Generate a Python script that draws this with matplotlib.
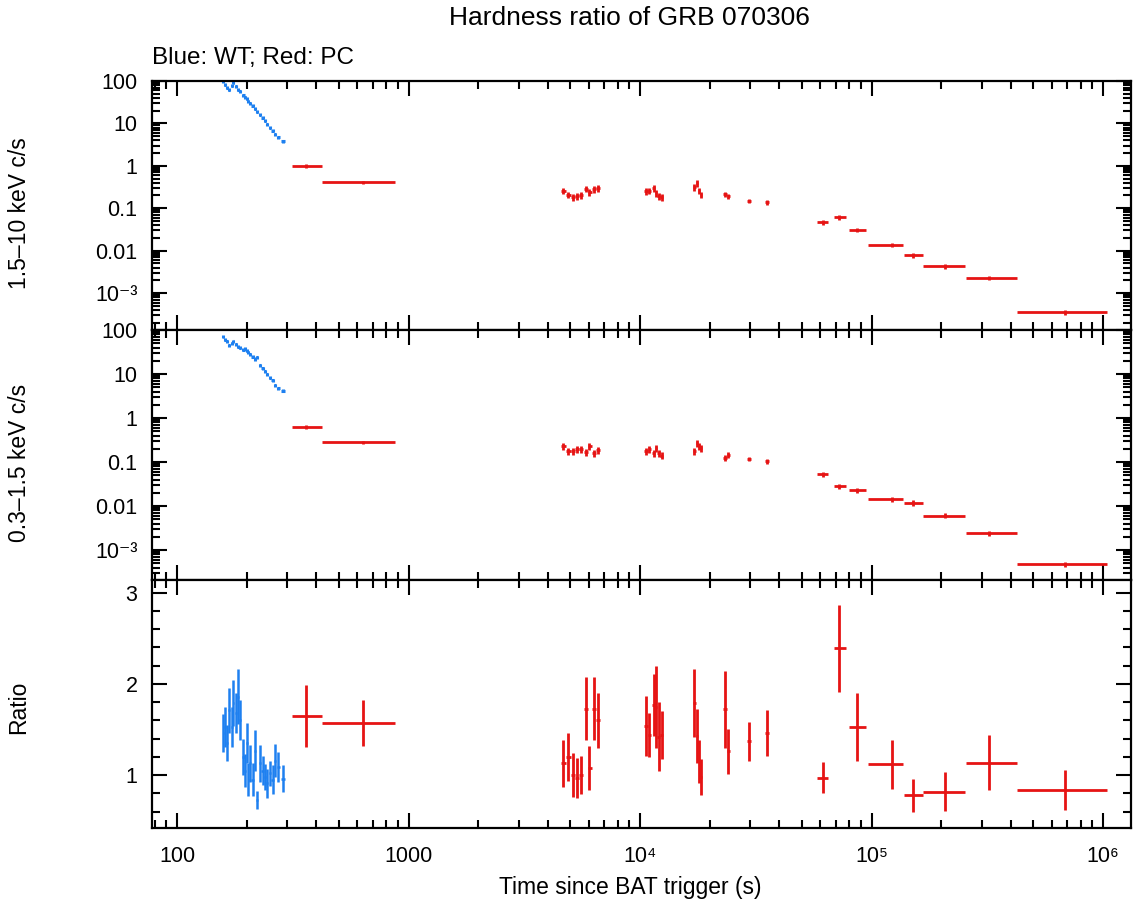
"""Hardness ratio light curve of GRB 070306 (Swift XRT, WT + PC modes)."""

import matplotlib
matplotlib.use("Agg")
import matplotlib.pyplot as plt
import matplotlib.ticker as mticker
import numpy as np

plt.rcParams["font.family"] = ["Liberation Sans", "DejaVu Sans"]

COLOR_WT = "#1e80f0"   # blue - windowed timing
COLOR_PC = "#e61414"   # red - photon counting

# ---- WT mode (blue) ----
wt_time = [158.6, 161.2, 164.9, 168.2, 172.4, 175.2, 179.3, 184.0, 187.2, 193.5,
           196.7, 200.0, 203.4, 206.8, 212.3, 217.2, 222.2, 228.2, 234.3, 239.8,
           245.3, 251.9, 258.8, 264.8, 274.0, 286.1]
wt_dt = [1.3, 1.3, 1.6, 1.6, 1.8, 1.4, 2.0, 2.0, 1.6, 3.0,
         1.6, 1.7, 1.7, 1.7, 2.5, 2.4, 2.5, 3.0, 3.0, 2.8,
         2.8, 3.2, 3.4, 3.0, 4.5, 6.0]
wt_hard = [100, 82, 70, 62, 78, 92, 75, 62, 57, 46,
           42, 38, 33, 30, 26, 22, 19, 16, 13.5, 11.5,
           9.5, 8.0, 6.8, 5.6, 4.7, 3.8]
wt_soft = [70, 60, 55, 45, 50, 55, 47, 42, 40, 36,
           38, 34, 31, 28, 25, 22, 24, 16, 13.5, 11.5,
           9.8, 8.2, 7.2, 5.6, 4.8, 4.2]
wt_ratio = [1.46, 1.53, 1.35, 1.71, 1.53, 1.79, 1.68, 1.86, 1.60, 1.20,
            1.05, 1.35, 0.95, 1.13, 0.95, 1.27, 0.73, 1.13, 1.05, 0.98,
            0.91, 1.02, 0.95, 1.16, 1.09, 0.96]
wt_ratio_err = [0.21, 0.22, 0.20, 0.25, 0.22, 0.25, 0.22, 0.30, 0.22, 0.20,
                0.18, 0.22, 0.18, 0.20, 0.18, 0.22, 0.10, 0.20, 0.16, 0.14,
                0.16, 0.14, 0.16, 0.18, 0.16, 0.15]
wt_rate_frac = 0.08

# ---- PC mode (red) ----
pc_time = [361, 636, 4667, 4897, 5149, 5360, 5560, 5848, 6040, 6330, 6562,
           10620, 10940, 11480, 11700, 12080, 12400, 17180, 17700, 18050, 18290,
           23300, 24000, 29580, 35250, 61400, 72600, 86300, 122100, 150600,
           207600, 322000, 685600]
pc_tlo = [314, 423, 4560, 4780, 5030, 5250, 5460, 5700, 5940, 6180, 6440,
          10450, 10780, 11300, 11590, 11890, 12240, 16950, 17440, 17870, 18170,
          22900, 23700, 29000, 34600, 57900, 69000, 80200, 96800, 138000,
          167500, 255300, 426800]
pc_thi = [423, 873, 4780, 5030, 5250, 5460, 5660, 5940, 6180, 6440, 6700,
          10780, 11100, 11590, 11890, 12240, 12600, 17440, 17870, 18170, 18500,
          23700, 24400, 30200, 35900, 65000, 77300, 94400, 137000, 166300,
          253500, 426800, 1040000]
pc_hard = [1.0, 0.41, 0.26, 0.21, 0.18, 0.19, 0.20, 0.29, 0.24, 0.28, 0.30,
           0.25, 0.26, 0.30, 0.23, 0.19, 0.18, 0.31, 0.39, 0.26, 0.21,
           0.215, 0.19, 0.15, 0.138, 0.047, 0.062, 0.031, 0.0138, 0.0078,
           0.0043, 0.0023, 0.00035]
pc_soft = [0.63, 0.28, 0.23, 0.18, 0.18, 0.20, 0.20, 0.17, 0.23, 0.16, 0.19,
           0.18, 0.20, 0.16, 0.21, 0.16, 0.14, 0.18, 0.27, 0.23, 0.21,
           0.125, 0.145, 0.119, 0.105, 0.053, 0.0285, 0.023, 0.0143, 0.012,
           0.0061, 0.0024, 0.00048]
pc_rate_frac = [0.12, 0.10, 0.18, 0.18, 0.18, 0.18, 0.18, 0.18, 0.18, 0.18, 0.18,
                0.18, 0.18, 0.18, 0.18, 0.18, 0.18, 0.18, 0.18, 0.18, 0.18,
                0.15, 0.15, 0.12, 0.12, 0.14, 0.14, 0.13, 0.12, 0.14,
                0.12, 0.12, 0.12]
pc_ratio = [1.65, 1.57, 1.13, 1.20, 1.00, 0.97, 1.00, 1.73, 1.08, 1.73, 1.60,
            1.54, 1.44, 1.77, 1.75, 1.42, 1.44, 1.79, 1.43, 1.15, 0.98,
            1.72, 1.26, 1.37, 1.46, 0.97, 2.39, 1.53, 1.12, 0.78,
            0.82, 1.135, 0.835]
pc_ratio_err = [0.34, 0.25, 0.26, 0.26, 0.24, 0.22, 0.21, 0.35, 0.24, 0.35, 0.30,
                0.33, 0.24, 0.34, 0.45, 0.38, 0.26, 0.37, 0.30, 0.24, 0.20,
                0.42, 0.25, 0.21, 0.25, 0.17, 0.48, 0.37, 0.27, 0.18,
                0.21, 0.30, 0.22]

x_ticks = [100, 1000, 1e4, 1e5, 1e6]
x_ticklabels = ["100", "1000", "10\u2074", "10\u2075", "10\u2076"]
rate_ticks = [1e-3, 0.01, 0.1, 1, 10, 100]
rate_ticklabels = ["10\u207b\u00b3", "0.01", "0.1", "1", "10", "100"]
ratio_ticks = [1, 2, 3]
ratio_ticklabels = ["1", "2", "3"]

W, H = 1135, 913
FS_TICK = 15.5
FS_LABEL = 16.5


def frac_box(top, bottom, left=152, right=1131):
    return [left / W, 1 - bottom / H, (right - left) / W, (bottom - top) / H]


def style_axis(ax):
    for sp in ax.spines.values():
        sp.set_linewidth(1.6)
    ax.tick_params(which="both", direction="in", top=True, right=True,
                   width=1.5, labelsize=FS_TICK)
    ax.tick_params(which="major", length=11)
    ax.tick_params(which="minor", length=5.5)
    ax.tick_params(axis="y", pad=10.5)
    ax.tick_params(axis="x", pad=13)
    ax.set_xscale("log")
    ax.set_xlim(78, 1.32e6)
    ax.xaxis.set_major_locator(mticker.FixedLocator(x_ticks))
    ax.xaxis.set_minor_locator(mticker.LogLocator(base=10, subs=range(2, 10), numticks=30))
    ax.xaxis.set_minor_formatter(mticker.NullFormatter())


def rate_panel(ax, wt_rate, pc_rate, ylim, label, label_y):
    wt_t = np.array(wt_time)
    pc_t = np.array(pc_time)
    wt_r = np.array(wt_rate)
    pc_r = np.array(pc_rate)
    ax.errorbar(wt_t, wt_r, xerr=np.array(wt_dt), yerr=wt_r * wt_rate_frac,
                fmt="none", ecolor=COLOR_WT, elinewidth=2.2, capsize=0)
    ax.errorbar(pc_t, pc_r,
                xerr=[pc_t - np.array(pc_tlo), np.array(pc_thi) - pc_t],
                yerr=pc_r * np.array(pc_rate_frac),
                fmt="none", ecolor=COLOR_PC, elinewidth=2.0, capsize=0)
    ax.set_yscale("log")
    ax.set_ylim(*ylim)
    ax.yaxis.set_major_locator(mticker.FixedLocator(rate_ticks))
    ax.yaxis.set_major_formatter(mticker.FixedFormatter(rate_ticklabels))
    ax.yaxis.set_minor_locator(mticker.LogLocator(base=10, subs=range(2, 10), numticks=30))
    ax.yaxis.set_minor_formatter(mticker.NullFormatter())
    ax.set_ylabel(label, fontsize=FS_LABEL)
    ax.yaxis.set_label_coords(-0.124, label_y)
    ax.tick_params(axis="x", labelbottom=False)


fig = plt.figure(figsize=(W / 100, H / 100), dpi=100)
fig.patch.set_facecolor("white")

ax_hard = fig.add_axes(frac_box(81, 330))
ax_soft = fig.add_axes(frac_box(330, 580))
ax_ratio = fig.add_axes(frac_box(580, 828))
for ax in (ax_hard, ax_soft, ax_ratio):
    style_axis(ax)

rate_panel(ax_hard, wt_hard, pc_hard, (1.35e-4, 100), "1.5\u201310 keV c/s", 0.47)
rate_panel(ax_soft, wt_soft, pc_soft, (2.1e-4, 100), "0.3\u20131.5 keV c/s", 0.47)

# Ratio panel
wt_t = np.array(wt_time)
pc_t = np.array(pc_time)
ax_ratio.errorbar(wt_t, wt_ratio, xerr=np.array(wt_dt), yerr=wt_ratio_err,
                  fmt="none", ecolor=COLOR_WT, elinewidth=1.8, capsize=0)
ax_ratio.errorbar(pc_t, pc_ratio,
                  xerr=[pc_t - np.array(pc_tlo), np.array(pc_thi) - pc_t],
                  yerr=pc_ratio_err, fmt="none", ecolor=COLOR_PC,
                  elinewidth=2.0, capsize=0)
ax_ratio.set_ylim(0.42, 3.14)
ax_ratio.yaxis.set_major_locator(mticker.FixedLocator(ratio_ticks))
ax_ratio.yaxis.set_major_formatter(mticker.FixedFormatter(ratio_ticklabels))
ax_ratio.yaxis.set_minor_locator(mticker.MultipleLocator(0.2))
ax_ratio.set_ylabel("Ratio", fontsize=FS_LABEL)
ax_ratio.yaxis.set_label_coords(-0.124, 0.485)
ax_ratio.xaxis.set_major_formatter(mticker.FixedFormatter(x_ticklabels))

fig.text(629 / W, 1 - 18 / H, "Hardness ratio of GRB 070306",
         ha="center", va="center", fontsize=19)
fig.text(152 / W, 1 - 58 / H, "Blue: WT; Red: PC",
         ha="left", va="center", fontsize=17.5)
fig.text(630 / W, 1 - 887 / H, "Time since BAT trigger (s)",
         ha="center", va="center", fontsize=FS_LABEL)

fig.savefig("out.png", dpi=100)
plt.close(fig)
